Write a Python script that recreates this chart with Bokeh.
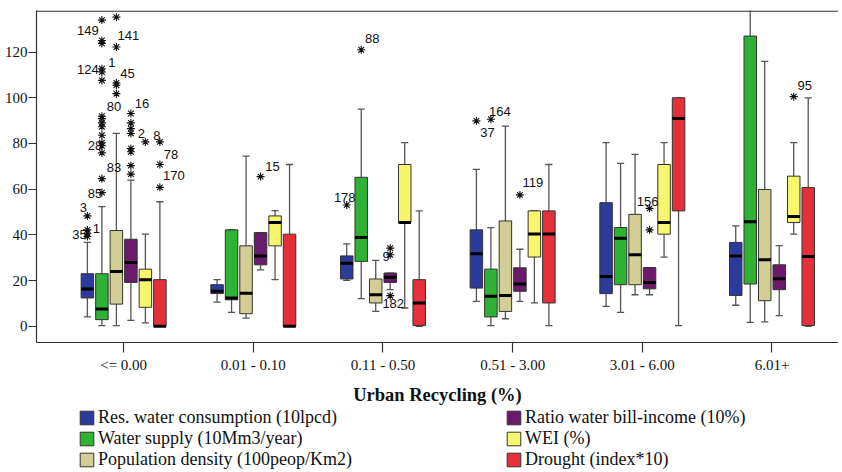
from bokeh.plotting import figure
from bokeh.models import (Range1d, FixedTicker, Legend, LegendItem,
                          ColumnDataSource, Span)
from bokeh.layouts import column
from bokeh.core.properties import value
from bokeh.embed import file_html
from bokeh.resources import INLINE

# ---------------- data ----------------
categories = ["<= 0.00", "0.01 - 0.10", "0.11 - 0.50", "0.51 - 3.00", "3.01 - 6.00", "6.01+"]
series_names = ["Res. water consumption (10lpcd)", "Water supply (10Mm3/year)",
                "Population density (100peop/Km2)", "Ratio water bill-income (10%)",
                "WEI (%)", "Drought (index*10)"]
series_colors = ["#2B3A9B", "#2DB233", "#D2CE94", "#6B1A6B", "#F7F76E", "#E3303A"]

res_low = [4.1, 10.6, 20.1, 10.9, 8.7, 9.2]
res_q1 = [12.4, 14.3, 20.7, 16.7, 14.3, 13.5]
res_med = [16.3, 15.3, 27.6, 31.7, 21.8, 30.8]
res_q3 = [23.0, 18.2, 30.8, 42.2, 54.1, 36.7]
res_high = [36.7, 20.4, 36.1, 68.7, 80.4, 43.9]

supply_low = [0.3, 6.1, 12.1, 0.3, 6.1, 1.7]
supply_q1 = [2.9, 11.6, 28.4, 4.1, 18.2, 18.5]
supply_med = [7.6, 12.4, 38.8, 13.1, 38.5, 45.8]
supply_q3 = [23.0, 42.2, 65.2, 25.0, 43.2, 127.0]
supply_high = [52.4, 42.2, 95.0, 43.2, 71.3, 145.0]

density_low = [0.3, 3.6, 6.5, 3.3, 13.8, 1.9]
density_q1 = [9.7, 5.5, 10.2, 6.5, 18.2, 11.2]
density_med = [24.0, 14.5, 13.8, 13.5, 31.3, 29.1]
density_q3 = [41.9, 35.2, 20.7, 46.1, 49.0, 59.9]
density_high = [84.4, 74.5, 28.8, 87.6, 75.2, 115.9]

bill_low = [2.6, 24.7, 16.0, 10.9, 13.8, 4.7]
bill_q1 = [19.2, 26.9, 19.2, 15.3, 16.4, 16.0]
bill_med = [27.9, 30.8, 21.5, 18.5, 19.2, 20.8]
bill_q3 = [38.1, 41.0, 23.3, 25.6, 25.7, 26.9]
bill_high = [64.0, 41.0, 23.3, 33.7, 25.7, 35.3]

wei_low = [1.5, 20.4, 8.0, 10.2, 30.3, 40.3]
wei_q1 = [8.3, 35.2, 45.4, 30.3, 40.3, 45.4]
wei_med = [20.4, 45.4, 45.4, 40.4, 45.4, 48.0]
wei_q3 = [25.0, 48.3, 70.8, 50.5, 70.8, 65.7]
wei_high = [40.3, 50.6, 80.4, 50.5, 80.4, 80.4]

drought_low = [0.0, 0.0, 0.0, 0.3, 0.3, 0.0]
drought_q1 = [0.0, 0.0, 0.3, 10.2, 50.5, 0.3]
drought_med = [0.0, 0.0, 10.2, 40.4, 90.9, 30.5]
drought_q3 = [20.4, 40.3, 20.4, 50.5, 100.0, 60.7]
drought_high = [54.5, 70.8, 50.5, 70.8, 100.0, 100.0]

# outliers (extreme values): category index, series index, value, case label
out_cat = [0, 0, 0, 0,
           0, 0, 0, 0, 0, 0, 0, 0, 0, 0, 0, 0, 0, 0, 0, 0,
           0, 0, 0, 0, 0,
           0, 0, 0, 0, 0, 0, 0, 0,
           0,
           0, 0, 0,
           1,
           2, 2, 2, 2, 2,
           3, 3, 3,
           4, 4,
           5]
out_ser = [0, 0, 0, 0,
           1, 1, 1, 1, 1, 1, 1, 1, 1, 1, 1, 1, 1, 1, 1, 1,
           2, 2, 2, 2, 2,
           3, 3, 3, 3, 3, 3, 3, 3,
           4,
           5, 5, 5,
           3,
           0, 1, 3, 3, 3,
           0, 1, 3,
           3, 3,
           4]
out_val = [48.3, 42.2, 40.7, 39.3,
           58.5, 64.6, 75.9, 79.0, 80.3, 83.6, 87.3, 89.0, 90.9, 91.9, 107.6, 111.3, 112.7, 123.8, 125.1, 134.0,
           101.8, 105.5, 106.5, 122.2, 135.3,
           66.6, 70.3, 76.4, 77.8, 84.4, 86.5, 89.0, 93.1,
           80.7,
           80.7, 70.8, 60.8,
           65.5,
           53.1, 121.0, 34.2, 31.3, 13.4,
           89.9, 90.6, 57.5,
           51.6, 42.2,
           100.5]
out_lab = ["3", "1", "", "35",
           "85", "83", "", "", "28", "", "", "", "", "80", "", "124", "1", "", "149", "",
           "", "45", "", "141", "",
           "", "", "", "", "", "", "", "16",
           "2",
           "8", "78", "170",
           "15",
           "178", "88", "", "9", "182",
           "37", "164", "119",
           "156", "",
           "95"]
# label placement relative to its star (screen px)
out_dx = [-4, 9, 0, -8,
          -7, 12, 0, 0, -7, 0, 0, 0, 0, 12, 0, -14, 10, 0, -14, 0,
          0, 11, 0, 12, 0,
          0, 0, 0, 0, 0, 0, 0, 11,
          -4,
          -3, 11, 14,
          12,
          -2, 11, 0, -4, 3,
          11, 9, 13,
          -2, 0,
          11]
out_dy = [-8, -1, 0, -2,
          1, -11, 0, 0, 3, 0, 0, 0, 0, -10, 0, -2, -6, 0, -10, 0,
          0, -12, 0, -12, 0,
          0, 0, 0, 0, 0, 0, 0, -10,
          -8,
          -6, -10, -12,
          -10,
          -7, -11, 0, 2, 8,
          12, -8, -12,
          -7, 0,
          -11]

stats = [
    (res_low, res_q1, res_med, res_q3, res_high),
    (supply_low, supply_q1, supply_med, supply_q3, supply_high),
    (density_low, density_q1, density_med, density_q3, density_high),
    (bill_low, bill_q1, bill_med, bill_q3, bill_high),
    (wei_low, wei_q1, wei_med, wei_q3, wei_high),
    (drought_low, drought_q1, drought_med, drought_q3, drought_high),
]

# ---------------- main figure ----------------
p = figure(width=838, height=407, output_backend="svg", toolbar_location=None,
           x_range=Range1d(-0.672, 5.513), y_range=Range1d(-7.1, 138.2),
           min_border_left=36, min_border_right=0, min_border_top=10,
           min_border_bottom=64)
p.outline_line_color = None
p.xgrid.visible = False
p.ygrid.visible = False
p.background_fill_color = "white"
p.border_fill_color = "white"

step = 0.1118
box_w = 0.0964
cap_w = 0.055
whisk_col = "#555555"

for i, (name, color, st) in enumerate(zip(series_names, series_colors, stats)):
    lo, q1, med, q3, hi = st
    xs = [c + (i - 2.5) * step for c in range(len(categories))]
    src = ColumnDataSource(dict(
        x=xs, lo=lo, q1=q1, med=med, q3=q3, hi=hi,
        xl=[x - box_w / 2 for x in xs], xr=[x + box_w / 2 for x in xs],
        cl=[x - cap_w / 2 for x in xs], cr=[x + cap_w / 2 for x in xs]))
    p.segment("x", "q3", "x", "hi", source=src, line_color=whisk_col, line_width=1.3)
    p.segment("x", "lo", "x", "q1", source=src, line_color=whisk_col, line_width=1.3)
    p.segment("cl", "hi", "cr", "hi", source=src, line_color=whisk_col, line_width=1.3)
    p.segment("cl", "lo", "cr", "lo", source=src, line_color=whisk_col, line_width=1.3)
    p.vbar(x="x", width=box_w, bottom="q1", top="q3", source=src,
           fill_color=color, line_color="#333333", line_width=1)
    p.segment("xl", "med", "xr", "med", source=src, line_color="black", line_width=3)

osrc = ColumnDataSource(dict(
    x=[c + (s - 2.5) * step for c, s in zip(out_cat, out_ser)],
    y=out_val, lab=out_lab, dx=out_dx, dy=out_dy))
p.scatter("x", "y", source=osrc, marker="asterisk", size=8,
          line_color="#111111", line_width=1.1)
p.text("x", "y", text="lab", source=osrc, x_offset="dx", y_offset="dy",
       text_font=value("Liberation Sans"), text_font_size="13px",
       text_align="center", text_baseline="middle", text_color="#111111")

# top frame line
p.add_layout(Span(location=137.9, dimension="width", line_color="#333333", line_width=1.2))

# axes
p.yaxis.ticker = FixedTicker(ticks=[0, 20, 40, 60, 80, 100, 120])
p.yaxis.major_tick_out = 8
p.yaxis.major_tick_in = 0
p.yaxis.minor_tick_line_color = None
p.yaxis.major_label_standoff = 1
p.yaxis.major_label_text_font = "Liberation Serif"
p.yaxis.major_label_text_font_size = "15px"
p.yaxis.major_label_text_color = "#111111"
p.yaxis.axis_line_color = "#333333"
p.yaxis.axis_line_width = 1.2
p.yaxis.major_tick_line_color = "#333333"
p.yaxis.major_tick_line_width = 1.2

p.xaxis.ticker = FixedTicker(ticks=list(range(len(categories))))
p.xaxis.major_label_overrides = {i: c for i, c in enumerate(categories)}
p.xaxis.major_tick_out = 10
p.xaxis.major_tick_in = 0
p.xaxis.minor_tick_line_color = None
p.xaxis.major_label_standoff = 4
p.xaxis.major_label_text_font = "Liberation Serif"
p.xaxis.major_label_text_font_size = "15px"
p.xaxis.major_label_text_color = "#111111"
p.xaxis.axis_line_color = "#333333"
p.xaxis.axis_line_width = 1.2
p.xaxis.major_tick_line_color = "#333333"
p.xaxis.major_tick_line_width = 1.2
p.xaxis.axis_label = "Urban Recycling (%)"
p.xaxis.axis_label_text_font = "Liberation Serif"
p.xaxis.axis_label_text_font_style = "bold"
p.xaxis.axis_label_text_font_size = "18.5px"
p.xaxis.axis_label_text_color = "#111111"
p.xaxis.axis_label_standoff = 9

# ---------------- legend figure ----------------
lg = figure(width=838, height=65, output_backend="svg", toolbar_location=None,
            x_range=Range1d(0, 1), y_range=Range1d(0, 1),
            x_axis_type=None, y_axis_type=None,
            min_border_left=0, min_border_right=0, min_border_top=0, min_border_bottom=0)
lg.outline_line_color = None
lg.xgrid.visible = False
lg.ygrid.visible = False

items = []
for name, color in zip(series_names, series_colors):
    # legend key proxy, kept outside the visible range
    r = lg.vbar(x=[-5], width=0.1, bottom=[-5], top=[-4],
                fill_color=color, line_color="#333333", line_width=1)
    items.append(LegendItem(label=name, renderers=[r]))

legend_style = dict(glyph_width=17, glyph_height=17, label_standoff=3,
                    label_height=19, spacing=0, padding=0, margin=0,
                    border_line_color=None, background_fill_alpha=0,
                    label_text_font="Liberation Serif", label_text_font_size="18px",
                    label_text_color="#111111")
lg.add_layout(Legend(items=items[:3], location=(42, 2), **legend_style))
lg.add_layout(Legend(items=items[3:], location=(469, 2), **legend_style))

layout = column(p, lg, spacing=0)
open("out.html", "w").write(file_html(layout, INLINE))
